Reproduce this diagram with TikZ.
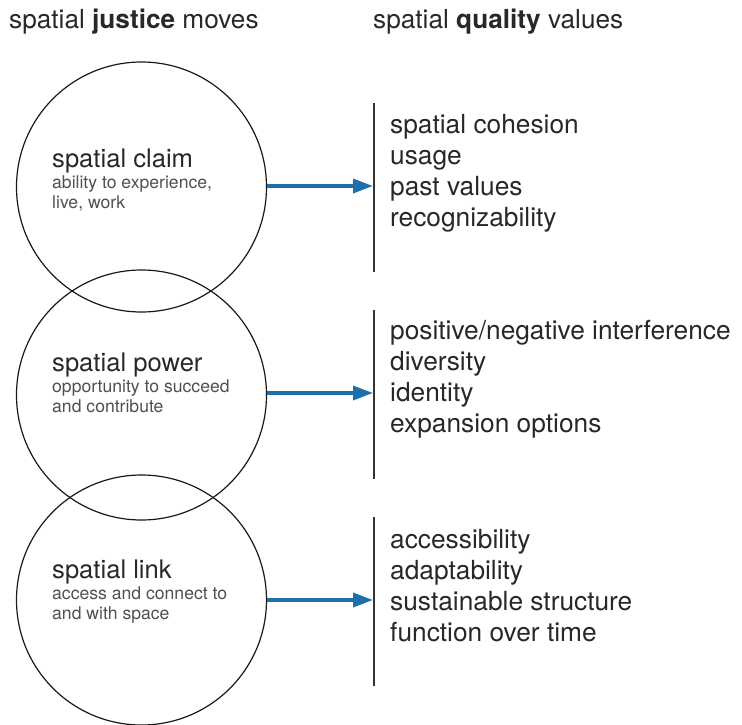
\documentclass[tikz,border=0pt]{standalone}
\usepackage{fontspec}
\setmainfont{TeX Gyre Heros}
\usetikzlibrary{arrows.meta}
\definecolor{arrowblue}{RGB}{30,112,170}
\definecolor{txtdark}{RGB}{40,40,40}
\definecolor{txtgray}{RGB}{80,80,80}
\begin{document}
\begin{tikzpicture}[x=1pt,y=-1pt,
  circ/.style={circle,draw=black!90,line width=1.2pt,minimum size=250pt,inner sep=0pt},
  headtxt/.style={anchor=base west,inner sep=0pt,text=txtdark,font=\fontsize{26.2}{30}\selectfont},
  circhead/.style={anchor=base west,inner sep=0pt,text=txtdark,font=\fontsize{25.6}{30}\selectfont},
  circsub/.style={anchor=base west,inner sep=0pt,text=txtgray,font=\fontsize{17.6}{20}\selectfont},
  listtxt/.style={anchor=base west,inner sep=0pt,text=txtdark,font=\fontsize{26.3}{30}\selectfont},
  vline/.style={draw=black!80,line width=1.4pt},
  moveArrow/.style={draw=arrowblue,line width=3.5pt,-{Triangle[length=20pt,width=14pt]}}
]
\useasboundingbox (0,0) rectangle (742,725);

% titles
\node[headtxt] (t1) at (9,29) {spatial \textbf{justice} moves};
\node[headtxt] (t2) at (373,29) {spatial \textbf{quality} values};

% circles
\node[circ] (c1) at (141.5,187) {};
\node[circ] (c2) at (141.5,395) {};
\node[circ] (c3) at (141.5,600) {};

% circle texts
\node[circhead] (h1) at (52,167) {spatial claim};
\node[circsub] (s1a) at (52,188) {ability to experience,};
\node[circsub] (s1b) at (52,208) {live, work};

\node[circhead] (h2) at (52,371) {spatial power};
\node[circsub] (s2a) at (52,392) {opportunity to succeed};
\node[circsub] (s2b) at (52,412) {and contribute};

\node[circhead] (h3) at (52,578) {spatial link};
\node[circsub] (s3a) at (52,599) {access and connect to};
\node[circsub] (s3b) at (52,619) {and with space};

% vertical lines
\coordinate (v1t) at (374,103); \coordinate (v1b) at (374,272);
\coordinate (v2t) at (374,310); \coordinate (v2b) at (374,479);
\coordinate (v3t) at (374,517); \coordinate (v3b) at (374,686);
\draw[vline] (v1t) -- (v1b);
\draw[vline] (v2t) -- (v2b);
\draw[vline] (v3t) -- (v3b);

% arrows
\coordinate (a1) at (373,186);
\coordinate (a2) at (373,393);
\coordinate (a3) at (373,600);
\draw[moveArrow] (c1.east |- a1) -- (a1);
\draw[moveArrow] (c2.east |- a2) -- (a2);
\draw[moveArrow] (c3.east |- a3) -- (a3);

% lists
\node[listtxt] (l1a) at (390,133) {spatial cohesion};
\node[listtxt] (l1b) at (390,164) {usage};
\node[listtxt] (l1c) at (390,195) {past values};
\node[listtxt] (l1d) at (390,226) {recognizability};

\node[listtxt] (l2a) at (390,339) {positive/negative interference};
\node[listtxt] (l2b) at (390,370) {diversity};
\node[listtxt] (l2c) at (390,401) {identity};
\node[listtxt] (l2d) at (390,432) {expansion options};

\node[listtxt] (l3a) at (390,548) {accessibility};
\node[listtxt] (l3b) at (390,579) {adaptability};
\node[listtxt] (l3c) at (390,610) {sustainable structure};
\node[listtxt] (l3d) at (390,641) {function over time};
\end{tikzpicture}
\end{document}
